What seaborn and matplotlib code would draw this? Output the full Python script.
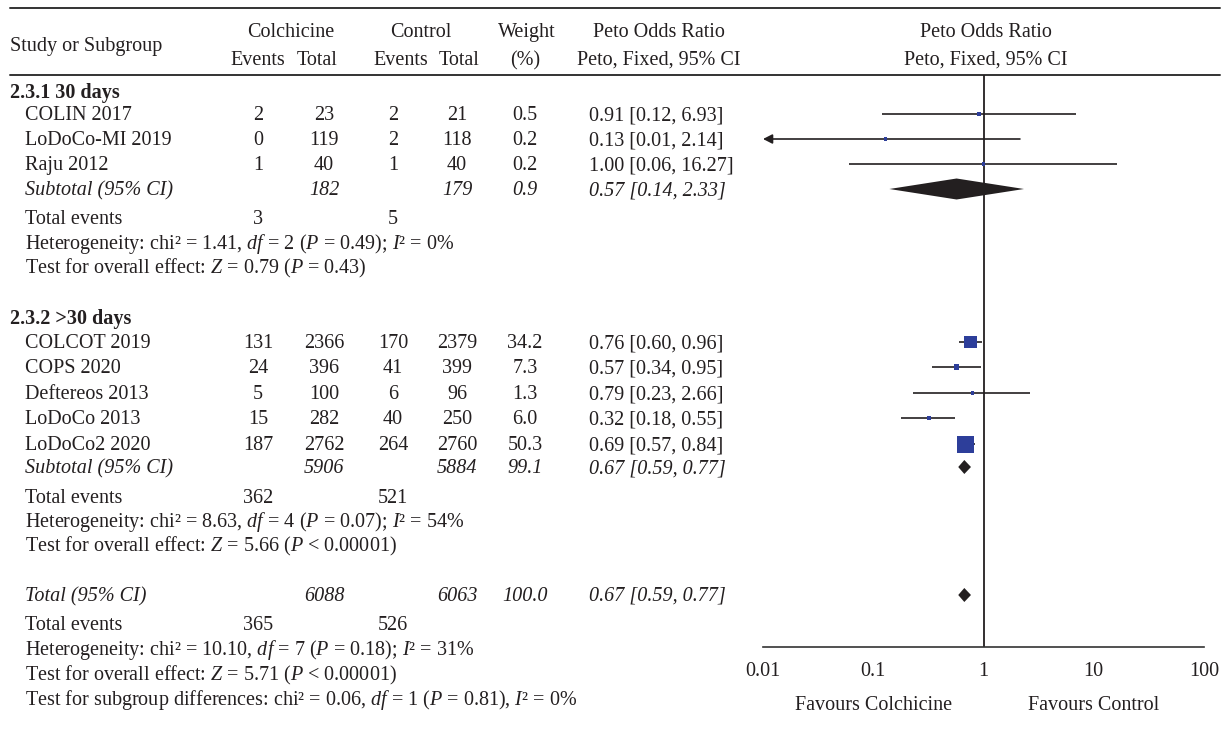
import numpy as np
import pandas as pd
import matplotlib.pyplot as plt
import matplotlib.transforms as mtransforms
import seaborn as sns

sns.set_style("white")
plt.rcParams['font.family'] = ['Liberation Serif', 'DejaVu Serif']
plt.rcParams['mathtext.fontset'] = 'custom'
plt.rcParams['mathtext.rm'] = 'Liberation Serif'
plt.rcParams['mathtext.it'] = 'Liberation Serif:italic'
plt.rcParams['mathtext.bf'] = 'Liberation Serif:bold'

# ---- data ----
studies = ["COLIN 2017", "LoDoCo-MI 2019", "Raju 2012",
           "COLCOT 2019", "COPS 2020", "Deftereos 2013", "LoDoCo 2013", "LoDoCo2 2020"]
colch_events = [2, 0, 1, 131, 24, 5, 15, 187]
colch_total = [23, 119, 40, 2366, 396, 100, 282, 2762]
ctrl_events = [2, 2, 1, 170, 41, 6, 40, 264]
ctrl_total = [21, 118, 40, 2379, 399, 96, 250, 2760]
weight = [0.5, 0.2, 0.2, 34.2, 7.3, 1.3, 6.0, 50.3]
or_est = [0.91, 0.13, 1.00, 0.76, 0.57, 0.79, 0.32, 0.69]
or_lo = [0.12, 0.01, 0.06, 0.60, 0.34, 0.23, 0.18, 0.57]
or_hi = [6.93, 2.14, 16.27, 0.96, 0.95, 2.66, 0.55, 0.84]

group_labels = ["2.3.1 30 days", "2.3.2 >30 days"]
group_size = [3, 5]
group_colch_total = [182, 5906]
group_ctrl_total = [179, 5884]
group_weight = [0.9, 99.1]
group_est = [0.57, 0.67]
group_lo = [0.14, 0.59]
group_hi = [2.33, 0.77]
group_colch_events = [3, 362]
group_ctrl_events = [5, 521]
group_chi2 = ["1.41", "8.63"]
group_df = [2, 4]
group_p = ["= 0.49", "= 0.07"]
group_i2 = [0, 54]
group_z = ["0.79", "5.66"]
group_zp = ["= 0.43", "< 0.00001"]

total_colch, total_ctrl, total_weight = 6088, 6063, 100.0
total_est, total_lo, total_hi = 0.67, 0.59, 0.77
total_colch_events, total_ctrl_events = 365, 526
total_chi2, total_df, total_p, total_i2 = "10.10", 7, "= 0.18", 31
total_z, total_zp = "5.71", "< 0.00001"
diff_chi2, diff_df, diff_p, diff_i2 = "0.06", 1, "= 0.81", 0

ticks = [0.01, 0.1, 1, 10, 100]
tick_labels = ["0.01", "0.1", "1", "10", "100"]

# ---- layout (pixel rows / columns) ----
W, H = 1229, 729
FS = 14.5
BASE = 6          # baseline sits this many px below a row's visual centre
TXT = '#231F20'
BLUE = '#2D3E9A'
head_y = [92, 318]
study_y = [[114, 139, 164], [342, 367, 393, 418, 444]]
sub_y = [189, 467]
te_y = [218, 497]
het_y = [243, 521]
test_y = [267, 545]
total_y, te3_y, het3_y, test3_y, diff_y = 595, 624, 649, 674, 699
x_name, x_head = 25, 10
x_ev1, x_tot1, x_ev2, x_tot2, x_w, x_or = 258, 324, 393, 457, 525, 589
ax_left, ax_right, ax_top, ax_bot = 763, 1204, 75, 647

fig = plt.figure(figsize=(W / 100, H / 100), dpi=100)
tab = fig.add_axes([0, 0, 1, 1])
tab.set_xlim(0, W)
tab.set_ylim(H, 0)
tab.axis('off')

def put(x, y, s, ha='center', **kw):
    tab.text(x, y + BASE, s, ha=ha, va='baseline', fontsize=FS, color=TXT, **kw)

# header
tab.plot([10, 1220], [8, 8], color='#333333', lw=1.4)
tab.plot([10, 1220], [ax_top, ax_top], color='#333333', lw=1.4)
put(x_head, 45, "Study or Subgroup", ha='left')
put(291, 31, "Colchicine")
put(x_ev1, 59, "Events"); put(317, 59, "Total")
put(421, 31, "Control")
put(401, 59, "Events"); put(459, 59, "Total")
put(527, 31, "Weight"); put(525, 59, "(%)")
put(659, 31, "Peto Odds Ratio"); put(659, 59, "Peto, Fixed, 95% CI")
put(986, 31, "Peto Odds Ratio"); put(986, 59, "Peto, Fixed, 95% CI")

def het_text(chi2, df, p, i2, sep=";"):
    return ("Heterogeneity: chi\u00b2 = " + chi2 + r", $df$ = " + str(df) +
            r" ($P$ " + p + ")" + sep + r" $I$" + "\u00b2 = " + str(i2) + "%")

# table body
idx = 0
rows_y = []
for g in range(2):
    put(x_head, head_y[g], group_labels[g], ha='left', fontweight='bold')
    for k in range(group_size[g]):
        i = idx + k
        y = study_y[g][k]
        rows_y.append(y)
        put(x_name, y, studies[i], ha='left')
        put(x_ev1, y, str(colch_events[i])); put(x_tot1, y, str(colch_total[i]))
        put(x_ev2, y, str(ctrl_events[i])); put(x_tot2, y, str(ctrl_total[i]))
        put(x_w, y, f"{weight[i]:.1f}")
        put(x_or, y, f"{or_est[i]:.2f} [{or_lo[i]:.2f}, {or_hi[i]:.2f}]", ha='left')
    idx += group_size[g]
    y = sub_y[g]
    put(x_name, y, "Subtotal (95% CI)", ha='left', style='italic')
    put(x_tot1, y, str(group_colch_total[g]), style='italic')
    put(x_tot2, y, str(group_ctrl_total[g]), style='italic')
    put(x_w, y, f"{group_weight[g]:.1f}", style='italic')
    put(x_or, y, f"{group_est[g]:.2f} [{group_lo[g]:.2f}, {group_hi[g]:.2f}]", ha='left', style='italic')
    put(x_name, te_y[g], "Total events", ha='left')
    put(x_ev1, te_y[g], str(group_colch_events[g])); put(x_ev2, te_y[g], str(group_ctrl_events[g]))
    put(x_name, het_y[g], het_text(group_chi2[g], group_df[g], group_p[g], group_i2[g]), ha='left')
    put(x_name, test_y[g], r"Test for overall effect: $Z$ = " + group_z[g] + r" ($P$ " + group_zp[g] + ")", ha='left')

put(x_name, total_y, "Total (95% CI)", ha='left', style='italic')
put(x_tot1, total_y, str(total_colch), style='italic')
put(x_tot2, total_y, str(total_ctrl), style='italic')
put(x_w, total_y, f"{total_weight:.1f}", style='italic')
put(x_or, total_y, f"{total_est:.2f} [{total_lo:.2f}, {total_hi:.2f}]", ha='left', style='italic')
put(x_name, te3_y, "Total events", ha='left')
put(x_ev1, te3_y, str(total_colch_events)); put(x_ev2, te3_y, str(total_ctrl_events))
put(x_name, het3_y, het_text(total_chi2, total_df, total_p, total_i2), ha='left')
put(x_name, test3_y, r"Test for overall effect: $Z$ = " + total_z + r" ($P$ " + total_zp + ")", ha='left')
put(x_name, diff_y, "Test for subgroup differences: " +
    het_text(diff_chi2, diff_df, diff_p, diff_i2, sep=",").replace("Heterogeneity: ", ""), ha='left')

# ---- forest panel ----
ax = fig.add_axes([ax_left / W, 1 - ax_bot / H, (ax_right - ax_left) / W, (ax_bot - ax_top) / H])
ax.set_xscale('log')
ax.set_xlim(ticks[0], ticks[-1])
ax.set_ylim(ax_bot, ax_top)
ax.patch.set_alpha(0)
for s in ['left', 'top', 'right']:
    ax.spines[s].set_visible(False)
ax.spines['bottom'].set_color('#333333')
ax.spines['bottom'].set_linewidth(1.2)
ax.set_yticks([])
ax.set_xticks(ticks, tick_labels)
ax.minorticks_off()
ax.tick_params(axis='x', direction='out', length=4, width=1.1, color='#333333',
               pad=7, labelsize=FS, labelcolor=TXT)
ax.axvline(1, color='#231F20', lw=1.3, zorder=1)

df = pd.DataFrame({"study": studies, "est": or_est, "lo": or_lo, "hi": or_hi,
                   "weight": weight, "y": rows_y})
for _, r in df.iterrows():
    if r.lo <= ticks[0]:
        ax.annotate("", xy=(ticks[0], r.y), xytext=(r.hi, r.y),
                    arrowprops=dict(arrowstyle='-|>,head_length=0.55,head_width=0.28',
                                    color='#231F20', lw=1.2, shrinkA=0, shrinkB=0),
                    annotation_clip=False)
    else:
        ax.hlines(r.y, r.lo, r.hi, color='#231F20', lw=1.2, zorder=2)

side_px = 3 + 14 * df["weight"] / max(weight)
sns.scatterplot(data=df, x="est", y="y", marker='s', color=BLUE, edgecolor='none',
                s=(side_px * 0.72) ** 2, legend=False, zorder=3, ax=ax)
ax.set_xlabel(""); ax.set_ylabel("")

def diamond(est, lo, hi, y, h):
    ax.fill([lo, est, hi, est], [y, y - h, y, y + h], color='#231F20', lw=0, zorder=3)

diamond(group_est[0], group_lo[0], group_hi[0], sub_y[0], 10.5)
diamond(group_est[1], group_lo[1], group_hi[1], sub_y[1], 7)
diamond(total_est, total_lo, total_hi, total_y, 7)

fav = mtransforms.blended_transform_factory(ax.transData, tab.transData)
for xv, lab in [(0.1, "Favours Colchicine"), (10, "Favours Control")]:
    tab.text(xv, 704 + BASE, lab, transform=fav, ha='center', va='baseline', fontsize=FS, color=TXT)

fig.savefig("out.png", dpi=100)
